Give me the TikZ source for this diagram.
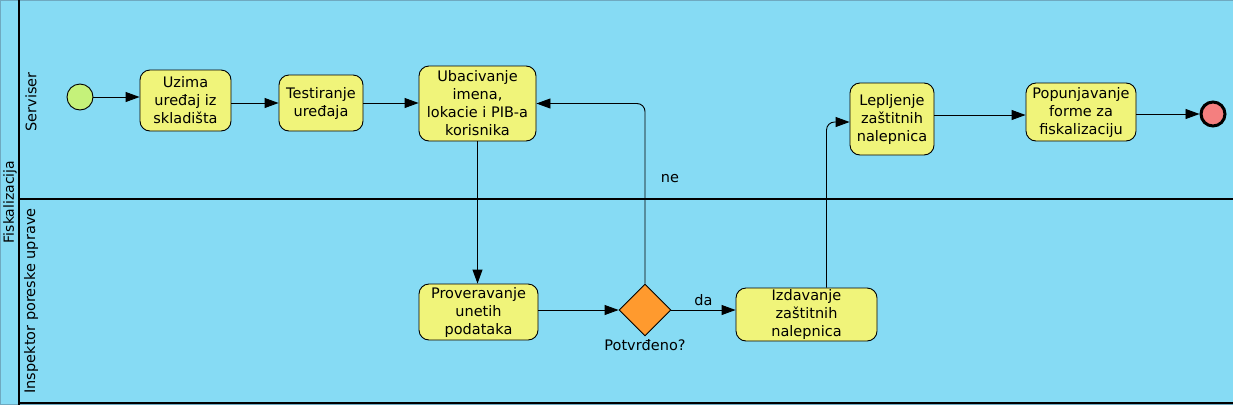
\documentclass[tikz,border=0pt]{standalone}
\usepackage{fontspec}
\setmainfont{DejaVu Sans}
\usetikzlibrary{arrows.meta,shapes.geometric}
\definecolor{poolblue}{HTML}{86DBF4}
\definecolor{taskyellow}{HTML}{F0F47A}
\definecolor{startgreen}{HTML}{C5F27A}
\definecolor{endred}{HTML}{F47F7F}
\definecolor{gworange}{HTML}{FF9A2E}
\definecolor{edgegray}{HTML}{6FA9C0}
\begin{document}
\begin{tikzpicture}[x=1pt,y=-1pt,
  font=\fontsize{14.5}{18}\selectfont,
  task/.style={draw=black,line width=0.9pt,fill=taskyellow,rounded corners=10pt,align=center,inner sep=1pt},
  flow/.style={draw=black,line width=0.9pt,-{Triangle[length=14pt,width=10pt]},rounded corners=8pt},
  sep/.style={draw=black,line width=2pt},
  lbl/.style={inner sep=0pt}]
\fill[poolblue] (0,0) rectangle (1233,405);
\useasboundingbox (0,0) rectangle (1233,405);
\draw[edgegray,line width=1pt] (0.5,0.5) rectangle (1233,404.5);
\draw[sep] (19,0) -- (19,405);
\draw[sep] (19,198.5) -- (1233,198.5);
\draw[sep] (19,403) -- (1233,403);
\node[lbl,rotate=90,font=\fontsize{14}{17}\selectfont] (pool) at (10,202) {Fiskalizacija};
\node[lbl,rotate=90] (lane1) at (31,102) {Serviser};
\node[lbl,rotate=90] (lane2) at (31,301) {Inspektor poreske uprave};

\node[circle,draw=black,line width=0.9pt,fill=startgreen,minimum size=26pt,inner sep=0pt] (start) at (80,97) {};
\node[task,minimum width=91pt,minimum height=61pt] (uzima) at (185.5,100.5) {Uzima\\ uređaj iz\\ skladišta};
\node[task,minimum width=84pt,minimum height=56pt] (test) at (321,103) {Testiranje\\ uređaja};
\node[task,minimum width=117pt,minimum height=75pt] (ubac) at (477.5,103.5) {Ubacivanje\\ imena,\\ lokacie i PIB-a\\ korisnika};
\node[task,minimum width=84pt,minimum height=72pt] (lep) at (892,119) {Lepljenje\\ zaštitnih\\ nalepnica};
\node[task,minimum width=110pt,minimum height=58pt] (pop) at (1081,112) {Popunjavanje\\ forme za\\ fiskalizaciju};
\node[circle,draw=black,line width=3pt,fill=endred,minimum size=24pt,inner sep=0pt] (end) at (1213,114) {};
\node[task,minimum width=119pt,minimum height=56pt] (prov) at (478.5,312) {Proveravanje\\ unetih\\ podataka};
\node[diamond,draw=black,line width=0.9pt,fill=gworange,minimum width=52pt,minimum height=52pt,inner sep=0pt] (gw) at (645,310) {};
\node[task,minimum width=141pt,minimum height=53pt] (izd) at (806.5,314.5) {Izdavanje\\ zaštitnih\\ nalepnica};
\node[lbl] (gwlabel) at (645,345) {Potvrđeno?};

\draw[flow] (start) -- (uzima.west |- start);
\draw[flow] (uzima.east |- test.west) -- (test.west);
\draw[flow] (test.east) -- (ubac.west |- test.east);
\draw[flow] (ubac.south) -- (ubac.south |- prov.north);
\draw[flow] (gw.west -| prov.east) -- (gw.west);
\draw[flow] (gw.east) -- node[lbl,above=4pt] (da) {da} (izd.west |- gw.east);
\draw[flow] (gw.north) |- (ubac.east);
\node[lbl] (ne) at (670,179) {ne};
\draw[flow] ([xshift=20pt]izd.north) |- ([yshift=-3pt]lep.west);
\draw[flow] (lep.east |- 0,115) -- (pop.west |- 0,115);
\draw[flow] (pop.east |- end) -- (end);
\end{tikzpicture}
\end{document}
